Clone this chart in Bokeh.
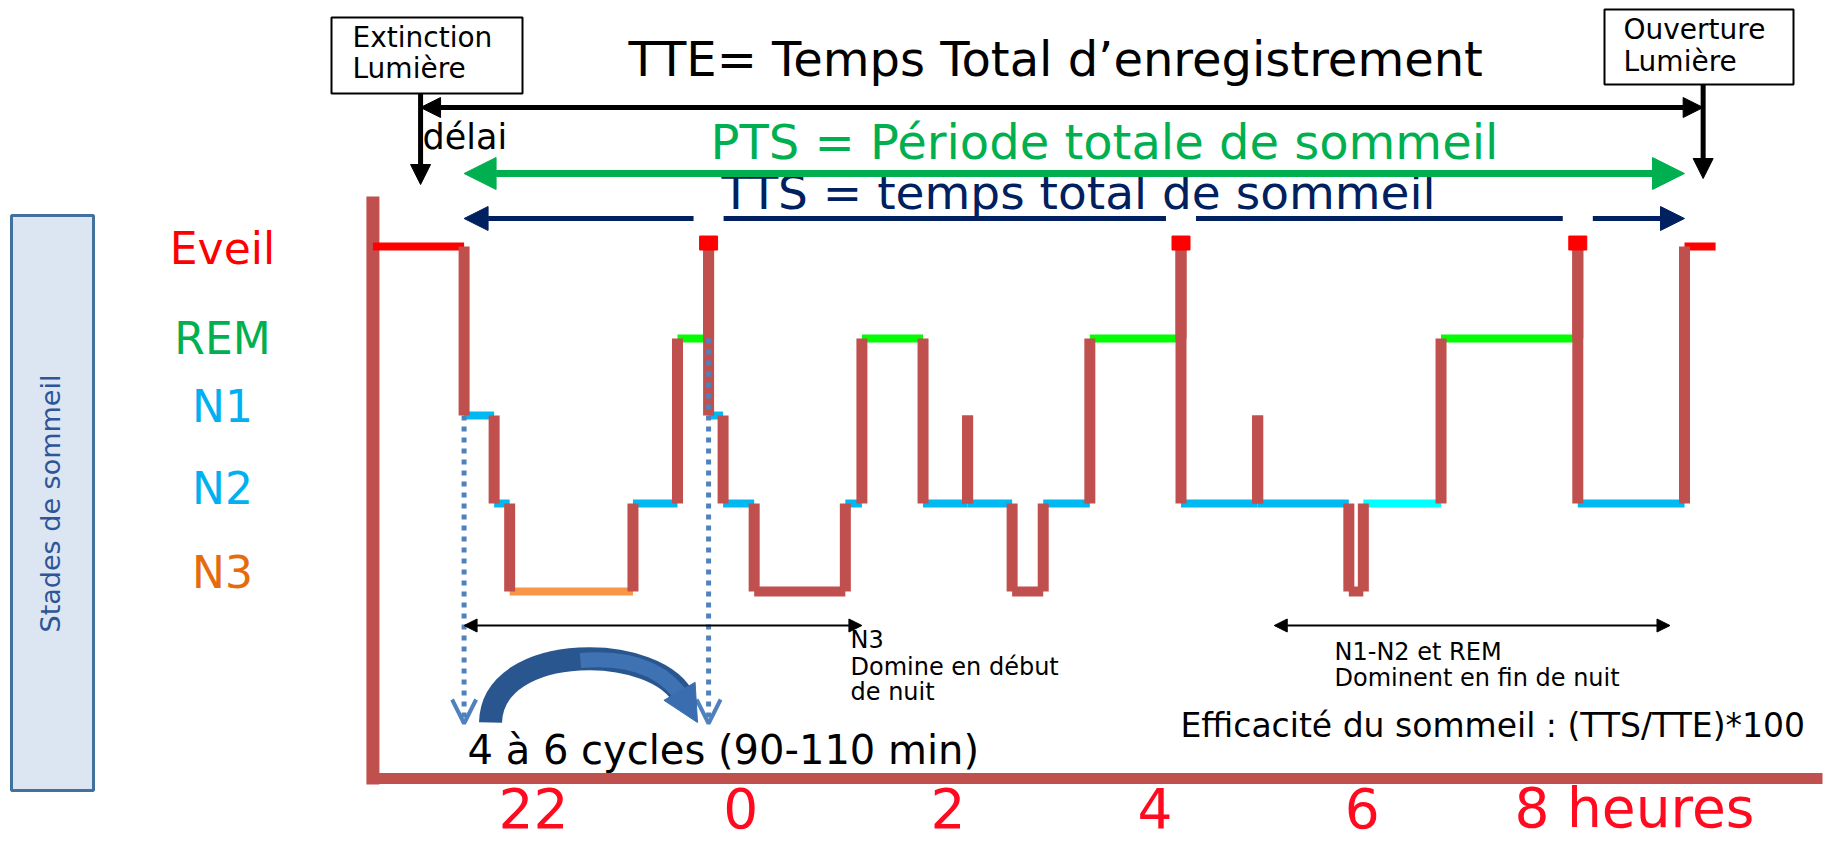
import math
from bokeh.plotting import figure
from bokeh.models import Range1d, Arrow, NormalHead, OpenHead
from bokeh.core.properties import value
from bokeh.embed import file_html
from bokeh.resources import INLINE

# ---------------- data ----------------
stages = ["Eveil", "REM", "N1", "N2", "N3"]
# hypnogram: start time of each run (hours, 24 = midnight) and its stage
run_start = [20.45, 21.33, 21.62, 21.77, 22.96, 23.39, 23.69, 23.69, 23.83, 24.13,
             25.01, 25.17, 25.76, 26.19, 26.19, 26.62, 26.92, 27.37, 28.25, 28.25,
             28.99, 28.99, 29.87, 30.01, 30.76, 32.08, 32.08, 33.11]
run_stage = ["Eveil", "N1", "N2", "N3", "N2", "REM", "Eveil", "N1", "N2", "N3",
             "N2", "REM", "N2", "N1", "N2", "N3", "N2", "REM", "Eveil", "N2",
             "N1", "N2", "N3", "N2", "REM", "Eveil", "N2", "Eveil"]
record_end = 33.41
lights_off = 20.91
lights_on = 33.29
hour_ticks = [22, 24, 26, 28, 30, 32]
hour_labels = ["22", "0", "2", "4", "6", "8 heures"]
n3_span = [21.33, 25.17]
late_span = [29.15, 32.97]

# ---------------- layout / style ----------------
stage_pos = {"Eveil": 3.92, "REM": 2.875, "N1": 2.0, "N2": 1.0, "N3": 0.0}
stage_label_color = {"Eveil": "#ff0000", "REM": "#00b050", "N1": "#00b0f0",
                     "N2": "#00b0f0", "N3": "#e46c0a"}
run_color_of_stage = {"Eveil": "#ff0000", "REM": "#00ff00", "N1": "#00b8f2",
                      "N2": "#00b8f2", "N3": "#f79646"}
BROWN = "#c0504d"
run_color_override = {9: BROWN, 15: BROWN, 22: BROWN, 23: "#00ffff"}
FONT = "DejaVu Sans"
W, H = 1830, 843

# reference-pixel -> data helpers (layout only)
PX0, PX_H = 533.0, 103.6
PY0, PY_U = 591.0, 88.0
def X(px):
    return 22 + (px - PX0) / PX_H
def Y(py):
    return (PY0 - py) / PY_U

p = figure(width=W, height=H, x_range=Range1d(X(0), X(W)),
           y_range=Range1d(Y(H), Y(0)), output_backend="svg",
           toolbar_location=None, min_border=0, x_axis_type=None, y_axis_type=None)
p.outline_line_color = None
p.background_fill_color = "white"
p.border_fill_color = "white"

BASE_SHIFT = 0.39  # em, compensates the renderer's baseline placement

def txt(x, py, s, size, color="black", align="left", x_off=0):
    """x in data units, py = reference baseline pixel row."""
    p.text(x=[x], y=[Y(py - BASE_SHIFT * size)], text=[s], text_font=value(FONT),
           text_font_size=value(f"{size}px"), text_color=color,
           text_align=align, text_baseline="alphabetic", x_offset=x_off)

def arrow(x0, y0, x1, y1, color, width, start=None, end=None, dash="solid", alpha=1.0):
    p.add_layout(Arrow(x_start=x0, y_start=y0, x_end=x1, y_end=y1, line_color=color,
                       line_width=width, line_dash=dash, line_alpha=alpha,
                       start=start, end=end))

def nhead(size, color):
    return NormalHead(size=size, fill_color=color, line_color=color, line_width=1)

# ---------------- derived hypnogram quantities ----------------
run_end = run_start[1:] + [record_end]
levels = [stage_pos[s] for s in run_stage]
sleep_onset = next(t for t, s in zip(run_start, run_stage) if s != "Eveil")
final_wake = [t for t, s in zip(run_start, run_stage) if s == "Eveil"][-1]
brief_wakes = [t for t, e, s in zip(run_start, run_end, run_stage) if s == "Eveil" and e == t]
record_start = run_start[0]

# ---------------- left box ----------------
p.quad(left=[X(11)], right=[X(93)], top=[Y(215)], bottom=[Y(790)],
       fill_color="#dce6f2", line_color="#41719c", line_width=3)
p.text(x=[X(50)], y=[Y(503)], text=["Stades de sommeil"], text_font=value(FONT),
       text_font_size=value("27px"), text_color="#2e5597", text_align="center",
       text_baseline="middle", angle=math.pi / 2)

# stage labels
label_baseline = {"Eveil": 265, "REM": 355, "N1": 423, "N2": 505, "N3": 589}
for s in stages:
    txt(X(222), label_baseline[s], s, 44, color=stage_label_color[s], align="center")

# ---------------- axes lines ----------------
p.segment(x0=[record_start], y0=[Y(196)], x1=[record_start], y1=[Y(784)],
          line_color=BROWN, line_width=13)
p.segment(x0=[record_start], y0=[Y(778)], x1=[X(1822)], y1=[Y(778)],
          line_color=BROWN, line_width=11)

# hour labels (the last one sits shifted left, as in the reference)
for h, lab in zip(hour_ticks, hour_labels):
    if lab == hour_labels[-1]:
        txt(h, 829, lab, 55, color="#ff0a1e", align="left", x_off=-55)
    else:
        txt(h, 829, lab, 55, color="#ff0a1e", align="center")

# ---------------- hypnogram ----------------
hx0, hx1, hy, hc, hw = [], [], [], [], []
for i, (a, b, lv, s) in enumerate(zip(run_start, run_end, levels, run_stage)):
    if b > a:
        hx0.append(a); hx1.append(b); hy.append(lv)
        c = run_color_override.get(i, run_color_of_stage[s])
        hc.append(c)
        hw.append(10 if c == BROWN else 8)
p.segment(x0=hx0, y0=hy, x1=hx1, y1=hy, line_color=hc, line_width=hw)

vx, vy0, vy1 = [], [], []
for i in range(1, len(run_start)):
    vx.append(run_start[i]); vy0.append(levels[i - 1]); vy1.append(levels[i])
p.segment(x0=vx, y0=vy0, x1=vx, y1=vy1, line_color=BROWN, line_width=11)

# brief awakenings: small red squares
p.rect(x=brief_wakes, y=[stage_pos["Eveil"] + 0.04] * len(brief_wakes), width=18, height=14,
       width_units="screen", height_units="screen", fill_color="#ff0000",
       line_color="#ff0000")

# ---------------- top annotations ----------------
p.quad(left=[X(331)], right=[X(522)], top=[Y(17)], bottom=[Y(93)],
       fill_color="white", line_color="black", line_width=2)
txt(X(352), 48, "Extinction", 28)
txt(X(352), 79, "Lumière", 28)
p.quad(left=[X(1604)], right=[X(1793)], top=[Y(9)], bottom=[Y(84)],
       fill_color="white", line_color="black", line_width=2)
txt(X(1623), 40, "Ouverture", 28)
txt(X(1623), 72, "Lumière", 28)

arrow(lights_off, Y(93), lights_off, Y(184), "black", 5, end=nhead(20, "black"))
arrow(lights_on, Y(84), lights_on, Y(178), "black", 5, end=nhead(20, "black"))

txt(X(628), 77, "TTE= Temps Total d’enregistrement", 48)
arrow(lights_off, Y(107), lights_on, Y(107), "black", 5,
      start=nhead(20, "black"), end=nhead(20, "black"))
txt(X(422), 150, "délai", 35)

GREEN = "#00b050"
txt(X(710), 160, "PTS = Période totale de sommeil", 48, color=GREEN)
arrow(sleep_onset, Y(173), final_wake, Y(173), GREEN, 7,
      start=nhead(32, GREEN), end=nhead(32, GREEN))

NAVY = "#002060"
txt(X(721), 210, "TTS = temps total de sommeil", 47, color=NAVY)
gap = 0.145
pts = [sleep_onset] + [v for w in brief_wakes for v in (w - gap, w + gap)] + [final_wake]
pieces = list(zip(pts[0::2], pts[1::2]))
for k, (a, b) in enumerate(pieces):
    st = nhead(24, NAVY) if k == 0 else None
    en = nhead(24, NAVY) if k == len(pieces) - 1 else None
    arrow(a, Y(218), b, Y(218), NAVY, 5, start=st, end=en)

# ---------------- cycle markers ----------------
BLUE = "#4f81bd"
arrow(sleep_onset, stage_pos["N1"], sleep_onset, Y(723), BLUE, 5, dash="5 6",
      end=OpenHead(size=24, line_color=BLUE, line_width=4))
arrow(brief_wakes[0], stage_pos["REM"], brief_wakes[0], Y(723), BLUE, 5, dash="5 6",
      end=OpenHead(size=24, line_color=BLUE, line_width=4))

# curved cycle arrow (darker left half, lighter right half)
p.bezier(x0=[X(490)], y0=[Y(722)], x1=[X(684)], y1=[Y(700)],
         cx0=[X(492)], cy0=[Y(640)], cx1=[X(660)], cy1=[Y(642)],
         line_color="#2a5690", line_width=23)
p.bezier(x0=[X(580)], y0=[Y(660)], x1=[X(684)], y1=[Y(700)],
         cx0=[X(628)], cy0=[Y(656)], cx1=[X(664)], cy1=[Y(668)],
         line_color="#3f72b3", line_width=15)
arrow(X(682), Y(696), X(697), Y(722), "#3a6db0", 1, alpha=0.0, end=nhead(36, "#3a6db0"))

txt(X(467), 765, "4 à 6 cycles (90-110 min)", 40)

# black dominance arrows
arrow(n3_span[0], Y(625), n3_span[1], Y(625), "black", 2,
      start=nhead(13, "black"), end=nhead(13, "black"))
arrow(late_span[0], Y(625), late_span[1], Y(625), "black", 2,
      start=nhead(13, "black"), end=nhead(13, "black"))
txt(X(850), 649, "N3", 24)
txt(X(850), 676, "Domine en début", 24)
txt(X(850), 701, "de nuit", 24)
txt(X(1334), 661, "N1-N2 et REM", 24)
txt(X(1334), 687, "Dominent en fin de nuit", 24)

txt(X(1180), 738, "Efficacité  du sommeil : (TTS/TTE)*100", 33)

open("out.html", "w").write(file_html(p, INLINE))
